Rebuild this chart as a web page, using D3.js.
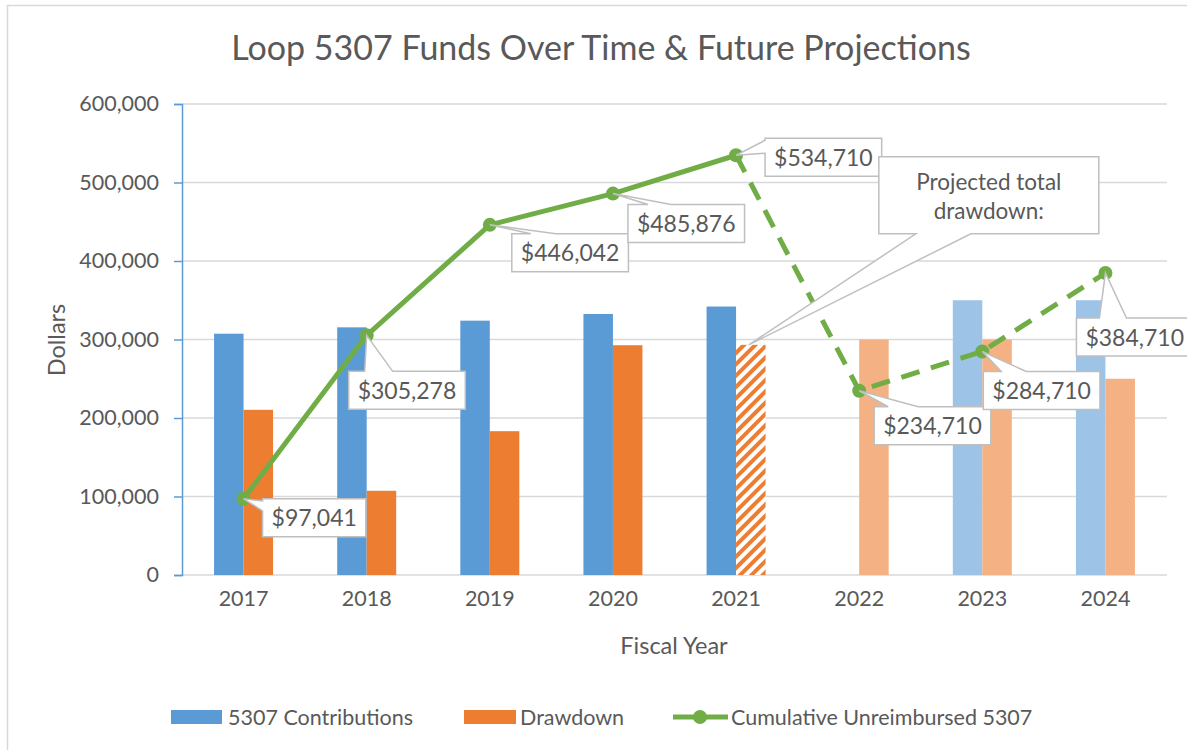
<!DOCTYPE html>
<html>
<head>
<meta charset="utf-8">
<title>Loop 5307 Funds</title>
<script src="https://d3js.org/d3.v7.min.js"></script>
<style>
  body { margin: 0; background: #fff; }
  svg text { font-family: Lato, "Open Sans", sans-serif; fill: #595959; }
</style>
</head>
<body>
<script>
// ---- data ----
var years = ["2017", "2018", "2019", "2020", "2021", "2022", "2023", "2024"];
var contributions = [307400, 315500, 324000, 332500, 342000, 0, 350000, 350000];
var drawdowns = [210400, 107300, 183200, 292700, 293200, 300000, 300000, 250000];
var cumulative = [97041, 305278, 446042, 485876, 534710, 234710, 284710, 384710];
var projected = [false, false, false, false, false, true, true, true];
var yTicks = [0, 100000, 200000, 300000, 400000, 500000, 600000];
var seriesNames = ["5307 Contributions", "Drawdown", "Cumulative Unreimbursed 5307"];
var titleText = "Loop 5307 Funds Over Time & Future Projections";
var noteLines = ["Projected total", "drawdown:"];

// callout box offsets from each point (layout only)
// [dx, dy, side, base start, base end]
var calloutLayout = [
  [19, 0, "left", 2, 12],
  [-18, 36, "top", 16, 44],
  [22, 9, "top", 19, 44],
  [15, 11, "top", 20, 43],
  [29, -17, "left", 2, 15],
  [15, 16, "top", 14, 44],
  [1, 20, "top", 18, 43],
  [-29, 45, "top", 23, 50]
];

var W = 1187, H = 750;
var blue = "#5B9BD5", orange = "#ED7D31", blueLight = "#9DC3E6", orangeLight = "#F4B183", green = "#70AD47";
var grid = "#D9D9D9";

var svg = d3.select("body").append("svg").attr("width", W).attr("height", H);

var defs = svg.append("defs");
var hatch = defs.append("pattern").attr("id", "hatch")
  .attr("patternUnits", "userSpaceOnUse").attr("width", 8).attr("height", 8)
  .attr("patternTransform", "rotate(45)");
hatch.append("rect").attr("width", 8).attr("height", 8).attr("fill", "#fff");
hatch.append("rect").attr("width", 4).attr("height", 8).attr("fill", orange);

// chart border
svg.append("rect").attr("x", 7.5).attr("y", 5.5).attr("width", W + 10).attr("height", H + 10)
  .attr("fill", "#fff").attr("stroke", grid).attr("stroke-width", 1.5);

var x = d3.scaleBand().domain(years).range([182, 1167]);
var y = d3.scaleLinear().domain([0, 600000]).range([575, 104]);
var sub = d3.scaleBand().domain(["c", "d"]).range([-29.5, 29.5]);
var cx = function (i) { return x(years[i]) + x.bandwidth() / 2; };

// title
svg.append("text").attr("x", 601).attr("y", 60).attr("text-anchor", "middle")
  .style("font-size", "34px").text(titleText);

// gridlines
svg.append("g").selectAll("line").data(yTicks).enter().append("line")
  .attr("x1", 182).attr("x2", 1167)
  .attr("y1", function (d) { return y(d); }).attr("y2", function (d) { return y(d); })
  .attr("stroke", grid).attr("stroke-width", 1.5);

// bars
var bars = svg.append("g");
bars.selectAll("rect.c").data(years).enter().append("rect").attr("class", "c")
  .attr("x", function (d, i) { return cx(i) + sub("c"); })
  .attr("width", sub.bandwidth())
  .attr("y", function (d, i) { return y(contributions[i]); })
  .attr("height", function (d, i) { return y(0) - y(contributions[i]); })
  .attr("fill", function (d, i) { return projected[i] ? blueLight : blue; });
bars.selectAll("rect.d").data(years).enter().append("rect").attr("class", "d")
  .attr("x", function (d, i) { return cx(i) + sub("d"); })
  .attr("width", sub.bandwidth())
  .attr("y", function (d, i) { return y(drawdowns[i]); })
  .attr("height", function (d, i) { return y(0) - y(drawdowns[i]); })
  .attr("fill", function (d, i) {
    if (i === 4) return "url(#hatch)";
    return projected[i] ? orangeLight : orange;
  });

// y axis
var yAxis = d3.axisLeft(y).tickValues(yTicks).tickSize(8).tickPadding(15)
  .tickFormat(d3.format(","));
var ya = svg.append("g").attr("transform", "translate(182,0)").call(yAxis);
ya.select(".domain").attr("stroke", blue).attr("stroke-width", 1.5);
ya.selectAll(".tick line").attr("stroke", blue).attr("stroke-width", 1.5);
ya.selectAll(".tick text").style("font-size", "21.5px").attr("fill", "#595959")
  .style("font-family", "Lato, sans-serif");

// x axis labels
var xAxis = d3.axisBottom(x).tickSize(0).tickPadding(16);
var xa = svg.append("g").attr("transform", "translate(0,575)").call(xAxis);
xa.select(".domain").remove();
xa.selectAll(".tick text").style("font-size", "21.5px").attr("fill", "#595959")
  .style("font-family", "Lato, sans-serif");

svg.append("text").attr("x", 674).attr("y", 654).attr("text-anchor", "middle")
  .style("font-size", "23.5px").text("Fiscal Year");
svg.append("text").attr("transform", "translate(65,340) rotate(-90)").attr("text-anchor", "middle")
  .style("font-size", "23.5px").text("Dollars");

// cumulative line
var pts = cumulative.map(function (v, i) { return [cx(i), y(v)]; });
var line = d3.line();
svg.append("path").attr("d", line(pts.slice(0, 5)))
  .attr("fill", "none").attr("stroke", green).attr("stroke-width", 5).attr("stroke-linejoin", "round");
svg.append("path").attr("d", line(pts.slice(4)))
  .attr("fill", "none").attr("stroke", green).attr("stroke-width", 5)
  .attr("stroke-dasharray", "19,12");
svg.append("g").selectAll("circle").data(pts).enter().append("circle")
  .attr("cx", function (d) { return d[0]; }).attr("cy", function (d) { return d[1]; })
  .attr("r", 7).attr("fill", green);

// callout path: box with wedge to point
function calloutPath(bx, by, bw, bh, side, a, b, px, py) {
  var p = d3.path();
  p.moveTo(bx, by);
  if (side === "top") { p.lineTo(bx + a, by); p.lineTo(px, py); p.lineTo(bx + b, by); }
  p.lineTo(bx + bw, by);
  p.lineTo(bx + bw, by + bh);
  if (side === "bottom") { p.lineTo(bx + b, by + bh); p.lineTo(px, py); p.lineTo(bx + a, by + bh); }
  p.lineTo(bx, by + bh);
  if (side === "left") { p.lineTo(bx, by + b); p.lineTo(px, py); p.lineTo(bx, by + a); }
  p.closePath();
  return p.toString();
}

var fmt = d3.format("$,");
var labels = svg.append("g");
cumulative.forEach(function (v, i) {
  var L = calloutLayout[i];
  var bx = pts[i][0] + L[0], by = pts[i][1] + L[1];
  var g = labels.append("g");
  var path = g.append("path");
  var t = g.append("text").style("font-size", "23px").attr("text-anchor", "middle").text(fmt(v));
  var tw = t.node().getComputedTextLength();
  var bw = tw + 18, bh = 38;
  t.attr("x", bx + bw / 2).attr("y", by + bh / 2 + 8.5);
  path.attr("d", calloutPath(bx, by, bw, bh, L[2], L[3], L[4], pts[i][0], pts[i][1]))
    .attr("fill", "#fff").attr("stroke", "#BFBFBF").attr("stroke-width", 1.5);
});

// note callout pointing at 2021 projected drawdown
var nx = cx(4) + sub("d") + sub.bandwidth() / 2 - 2, ny = y(drawdowns[4]);
var nbx = nx + 130, nby = ny - 188, nbw = 220, nbh = 77;
labels.append("path").attr("d", calloutPath(nbx, nby, nbw, nbh, "bottom", 37, 92, nx, ny))
  .attr("fill", "#fff").attr("stroke", "#BFBFBF").attr("stroke-width", 1.5);
labels.append("text").attr("text-anchor", "middle").style("font-size", "22.5px")
  .selectAll("tspan").data(noteLines).enter().append("tspan")
  .attr("x", nbx + nbw / 2).attr("y", function (d, i) { return nby + 33 + i * 29; })
  .text(function (d) { return d; });

// legend
var lg = svg.append("g");
lg.append("rect").attr("x", 171).attr("y", 710).attr("width", 51).attr("height", 14).attr("fill", blue);
lg.append("text").attr("x", 228).attr("y", 725).style("font-size", "21.5px").text(seriesNames[0]);
lg.append("rect").attr("x", 464).attr("y", 710).attr("width", 52).attr("height", 14).attr("fill", orange);
lg.append("text").attr("x", 520).attr("y", 725).style("font-size", "21.5px").text(seriesNames[1]);
lg.append("line").attr("x1", 673).attr("x2", 728).attr("y1", 717).attr("y2", 717)
  .attr("stroke", green).attr("stroke-width", 5);
lg.append("circle").attr("cx", 700).attr("cy", 717).attr("r", 7).attr("fill", green);
lg.append("text").attr("x", 731).attr("y", 725).style("font-size", "21.5px").text(seriesNames[2]);
</script>
</body>
</html>
